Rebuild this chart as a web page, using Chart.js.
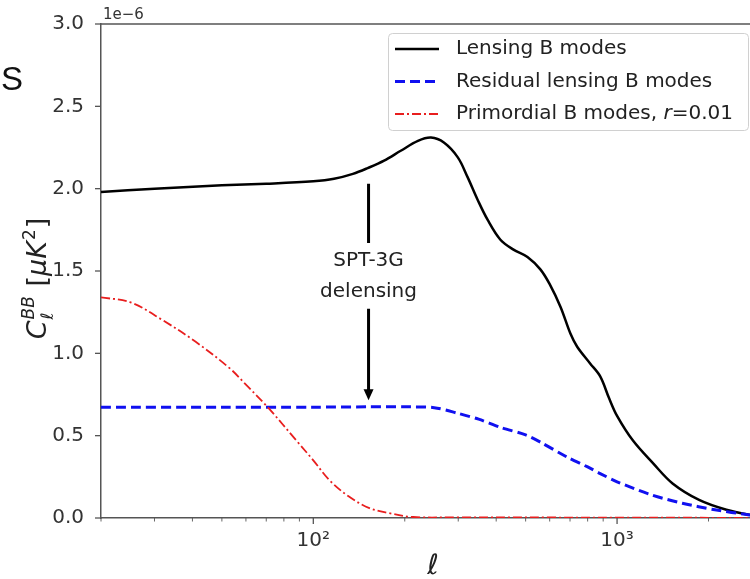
<!DOCTYPE html>
<html>
<head>
<meta charset="utf-8">
<script src="https://cdn.jsdelivr.net/npm/chart.js@4.4.1/dist/chart.umd.min.js"></script>
<style>
  html, body { margin: 0; padding: 0; background: #fff; overflow: hidden; width: 750px; height: 579px; }
  #wrap { position: relative; width: 750px; height: 579px; overflow: hidden; }
  #bb { position: absolute; left: 0; top: 0; }
  .edge { position: absolute; left: 1px; top: 60px; font: 33px 'Liberation Sans', Arial, sans-serif; color: #111; }
</style>
</head>
<body>
<div id="wrap">
  <canvas id="bb" width="770" height="579"></canvas>
  <div class="edge">S</div>
</div>
<script>
// BB power spectra: lensing, residual lensing after delensing, primordial r=0.01 (units of 1e-6 uK^2)

const ELL_LENS = [20, 30, 50, 70, 100, 117, 135, 151, 171, 194, 221, 244, 269, 299, 322, 348, 375, 413, 456, 507, 559, 600, 652, 702, 739, 814, 880, 940, 1000, 1128, 1317, 1523, 1862, 2290, 2730, 3000];
const CL_LENS = [1.98, 2.0, 2.02, 2.03, 2.045, 2.06, 2.09, 2.125, 2.17, 2.23, 2.29, 2.31, 2.28, 2.19, 2.07, 1.93, 1.81, 1.69, 1.63, 1.585, 1.51, 1.42, 1.28, 1.12, 1.04, 0.94, 0.86, 0.73, 0.62, 0.47, 0.33, 0.21, 0.11, 0.05, 0.02, 0.012];

const ELL_RES = [20, 50, 100, 150, 200, 250, 300, 350, 414, 500, 560, 685, 800, 880, 1000, 1300, 1640, 2100, 2700, 3000];
const CL_RES = [0.672, 0.672, 0.673, 0.675, 0.675, 0.67, 0.635, 0.60, 0.55, 0.505, 0.46, 0.37, 0.31, 0.27, 0.22, 0.14, 0.09, 0.05, 0.02, 0.012];

const ELL_PRIM = [20, 25, 32, 41, 53, 60, 71, 88, 100, 113, 131, 153, 177, 213, 300, 600, 1000, 3000];
const CL_PRIM = [1.34, 1.31, 1.20, 1.07, 0.91, 0.81, 0.67, 0.47, 0.35, 0.23, 0.13, 0.06, 0.03, 0.006, 0.004, 0.003, 0.002, 0.001];

const X_TICKS = [20, 30, 40, 50, 60, 70, 80, 90, 100, 200, 300, 400, 500, 600, 700, 800, 900, 1000, 2000, 3000];
const X_LABELS = { 100: '10²', 1000: '10³' };
const Y_TICKS = [0, 0.5, 1.0, 1.5, 2.0, 2.5, 3.0];

const LEGEND_LABELS = ['Lensing B modes', 'Residual lensing B modes', 'Primordial B modes, '];

const FONT = "'DejaVu Sans', sans-serif";
const AXIS_COLOR = '#555';

function points(xs, ys) {
  return xs.map((x, i) => ({ x, y: ys[i] }));
}

const annotations = {
  id: 'annotations',
  beforeDatasetsDraw(chart) {
    const { ctx, chartArea, scales } = chart;
    const sx = scales.x, sy = scales.y;
    ctx.save();
    ctx.strokeStyle = AXIS_COLOR;
    // top spine
    ctx.lineWidth = 1.5;
    ctx.beginPath();
    ctx.moveTo(chartArea.left, chartArea.top);
    ctx.lineTo(chartArea.right, chartArea.top);
    ctx.stroke();
    // x tick marks, major/minor
    X_TICKS.forEach(v => {
      const px = sx.getPixelForValue(v);
      const major = X_LABELS[v] !== undefined;
      ctx.lineWidth = major ? 1.3 : 0.9;
      ctx.beginPath();
      ctx.moveTo(px, chartArea.bottom);
      ctx.lineTo(px, chartArea.bottom + (major ? 6 : 3.5));
      ctx.stroke();
    });
    // y tick marks
    ctx.lineWidth = 1.3;
    Y_TICKS.forEach(v => {
      const py = sy.getPixelForValue(v);
      ctx.beginPath();
      ctx.moveTo(chartArea.left, py);
      ctx.lineTo(chartArea.left - 6, py);
      ctx.stroke();
    });
    ctx.restore();
  },
  afterDraw(chart) {
    const { ctx, chartArea, scales, data } = chart;
    const sx = scales.x, sy = scales.y;
    ctx.save();

    // offset text
    ctx.fillStyle = '#333';
    ctx.font = `15px ${FONT}`;
    ctx.textAlign = 'left';
    ctx.textBaseline = 'bottom';
    ctx.fillText('1e\u22126', chartArea.left + 2, chartArea.top - 1);

    // x axis title
    ctx.fillStyle = '#222';
    ctx.font = `italic 28px ${FONT}`;
    ctx.textAlign = 'center';
    ctx.textBaseline = 'alphabetic';
    ctx.fillText('ℓ', 433, 574);

    // y axis title, rotated
    ctx.save();
    ctx.translate(46, 279);
    ctx.rotate(-Math.PI / 2);
    ctx.textBaseline = 'alphabetic';
    ctx.textAlign = 'left';
    ctx.fillStyle = '#222';
    ctx.font = `italic 27px ${FONT}`;
    const wC = ctx.measureText('C').width;
    ctx.font = `italic 17px ${FONT}`;
    const wBB = ctx.measureText('BB').width;
    ctx.font = `27px ${FONT}`;
    const wSp = ctx.measureText(' [').width;
    ctx.font = `italic 27px ${FONT}`;
    const wMuK = ctx.measureText('μK').width;
    ctx.font = `17px ${FONT}`;
    const w2 = ctx.measureText('2').width;
    ctx.font = `27px ${FONT}`;
    const wR = ctx.measureText(']').width;
    const w = wC + wBB + 2 + wSp + wMuK + w2 + 1 + wR;
    let cx = -w / 2;
    ctx.font = `italic 27px ${FONT}`;
    ctx.fillText('C', cx, 0);
    cx += wC + 1;
    ctx.font = `italic 17px ${FONT}`;
    ctx.fillText('BB', cx, -12);
    ctx.fillText('ℓ', cx, 7);
    cx += wBB + 1;
    ctx.font = `27px ${FONT}`;
    ctx.fillText(' [', cx, 0);
    cx += wSp;
    ctx.font = `italic 27px ${FONT}`;
    ctx.fillText('μK', cx, 0);
    cx += wMuK + 1;
    ctx.font = `17px ${FONT}`;
    ctx.fillText('2', cx, -11);
    cx += w2 + 1;
    ctx.font = `27px ${FONT}`;
    ctx.fillText(']', cx, 0);
    ctx.restore();

    // delensing arrow with label
    const ax = sx.getPixelForValue(152);
    const yTop = sy.getPixelForValue(2.03);
    const yGap1 = sy.getPixelForValue(1.67);
    const yGap2 = sy.getPixelForValue(1.27);
    const yTip = sy.getPixelForValue(0.715);
    ctx.strokeStyle = '#000';
    ctx.fillStyle = '#000';
    ctx.lineWidth = 3;
    ctx.beginPath();
    ctx.moveTo(ax, yTop);
    ctx.lineTo(ax, yGap1);
    ctx.moveTo(ax, yGap2);
    ctx.lineTo(ax, yTip - 10);
    ctx.stroke();
    ctx.beginPath();
    ctx.moveTo(ax - 5, yTip - 11);
    ctx.lineTo(ax + 5, yTip - 11);
    ctx.lineTo(ax, yTip);
    ctx.closePath();
    ctx.fill();
    ctx.fillStyle = '#222';
    ctx.font = `20px ${FONT}`;
    ctx.textAlign = 'center';
    ctx.textBaseline = 'middle';
    ctx.fillText('SPT-3G', ax, (yGap1 + yGap2) / 2 - 15);
    ctx.fillText('delensing', ax, (yGap1 + yGap2) / 2 + 16);

    // legend box in upper right
    const bx = 388, by = chartArea.top + 9, bw = 360, bh = 97;
    ctx.fillStyle = 'rgba(255,255,255,0.85)';
    ctx.strokeStyle = '#d0d0d0';
    ctx.lineWidth = 1;
    ctx.beginPath();
    ctx.roundRect(bx + 0.5, by + 0.5, bw, bh, 4);
    ctx.fill();
    ctx.stroke();
    data.datasets.forEach((ds, i) => {
      const ry = by + 16 + i * 32.5;
      ctx.strokeStyle = ds.borderColor;
      ctx.lineWidth = ds.borderWidth;
      ctx.setLineDash(ds.borderDash || []);
      ctx.beginPath();
      ctx.moveTo(bx + 7, ry);
      ctx.lineTo(bx + 51, ry);
      ctx.stroke();
      ctx.setLineDash([]);
      ctx.fillStyle = '#222';
      ctx.font = `20px ${FONT}`;
      ctx.textAlign = 'left';
      ctx.textBaseline = 'middle';
      ctx.fillText(LEGEND_LABELS[i], bx + 68, ry);
      if (i === 2) {
        let tx = bx + 68 + ctx.measureText(LEGEND_LABELS[i]).width;
        ctx.font = `italic 20px ${FONT}`;
        ctx.fillText('r', tx, ry);
        tx += ctx.measureText('r').width;
        ctx.font = `20px ${FONT}`;
        ctx.fillText('=0.01', tx, ry);
      }
    });
    ctx.restore();
  }
};

new Chart(document.getElementById('bb'), {
  type: 'line',
  data: {
    datasets: [
      {
        label: LEGEND_LABELS[0],
        data: points(ELL_LENS, CL_LENS),
        borderColor: '#000',
        borderWidth: 2.5,
        pointRadius: 0,
        tension: 0.35,
        order: 3,
      },
      {
        label: LEGEND_LABELS[1],
        data: points(ELL_RES, CL_RES),
        borderColor: '#1010f0',
        borderWidth: 3,
        borderDash: [10, 5],
        pointRadius: 0,
        tension: 0.3,
        order: 2,
      },
      {
        label: LEGEND_LABELS[2] + 'r=0.01',
        data: points(ELL_PRIM, CL_PRIM),
        borderColor: '#e81e1e',
        borderWidth: 1.8,
        borderDash: [9, 3, 2, 3],
        pointRadius: 0,
        tension: 0.35,
        order: 1,
      },
    ]
  },
  options: {
    responsive: false,
    animation: false,
    layout: { padding: { top: 24, right: 8, left: 0, bottom: 0 } },
    plugins: { legend: { display: false }, tooltip: { enabled: false } },
    scales: {
      x: {
        type: 'logarithmic',
        min: 20,
        max: 3000,
        afterBuildTicks(scale) {
          scale.ticks = X_TICKS.map(v => ({ value: v }));
        },
        afterFit(scale) { scale.height = 61; },
        grid: { display: false },
        border: { display: true, color: AXIS_COLOR, width: 1.5 },
        ticks: {
          autoSkip: false,
          maxRotation: 0,
          padding: 3,
          color: '#333',
          font: { family: FONT, size: 20 },
          callback: v => X_LABELS[v] || '',
        },
      },
      y: {
        min: 0,
        max: 3.0,
        afterBuildTicks(scale) {
          scale.ticks = Y_TICKS.map(v => ({ value: v }));
        },
        afterFit(scale) { scale.width = 101; },
        grid: { display: false },
        border: { display: true, color: AXIS_COLOR, width: 1.5 },
        ticks: {
          padding: 9,
          color: '#333',
          font: { family: FONT, size: 20 },
          callback: v => v.toFixed(1),
        },
      },
    },
  },
  plugins: [annotations],
});
</script>
</body>
</html>
